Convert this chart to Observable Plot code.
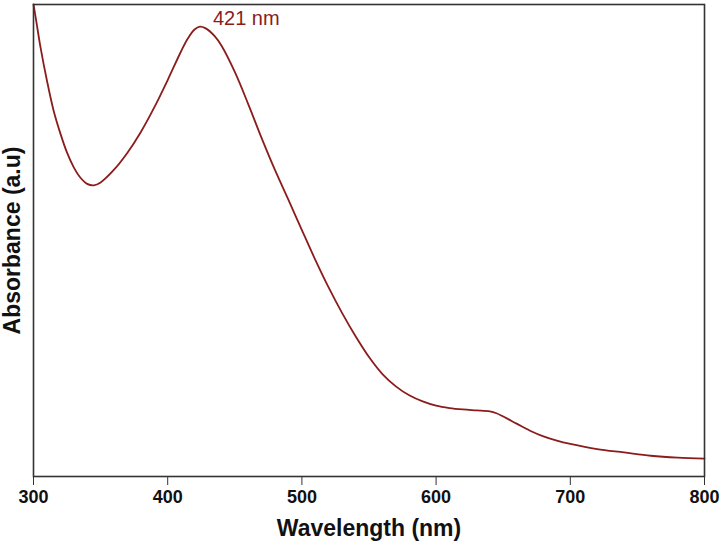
<!DOCTYPE html>
<html>
<head>
<meta charset="utf-8">
<script src="https://cdn.jsdelivr.net/npm/d3@7"></script>
<script src="https://cdn.jsdelivr.net/npm/@observablehq/plot@0.6"></script>
<style>
  html, body { margin: 0; padding: 0; background: #fff; }
  #chart svg { display: block; }
</style>
</head>
<body>
<div id="chart"></div>
<script>
// Wavelength (nm) and absorbance (a.u., relative)
const wavelengths = [300, 302, 305, 310, 315, 320, 325, 330, 335, 340, 345, 350, 360, 370, 380, 390, 400, 410, 415, 420, 424, 428, 435, 440, 450, 460, 470, 480, 490, 500, 510, 520, 530, 540, 550, 560, 570, 580, 590, 600, 610, 620, 630, 640, 645, 650, 660, 670, 680, 690, 700, 720, 740, 760, 780, 800];
const absorbance  = [1.000, 0.966, 0.913, 0.839, 0.775, 0.727, 0.686, 0.655, 0.633, 0.620, 0.617, 0.623, 0.650, 0.686, 0.730, 0.782, 0.840, 0.901, 0.928, 0.947, 0.953, 0.950, 0.933, 0.913, 0.857, 0.789, 0.717, 0.649, 0.586, 0.522, 0.459, 0.400, 0.346, 0.297, 0.253, 0.217, 0.191, 0.172, 0.159, 0.150, 0.145, 0.142, 0.140, 0.138, 0.134, 0.127, 0.112, 0.097, 0.085, 0.076, 0.069, 0.058, 0.051, 0.044, 0.040, 0.038];
const xTicks = [300, 400, 500, 600, 700, 800];
const peakLabel = ["421 nm"];
const peakWavelength = [421];
const peakAbsorbance = [0.953];

const data = wavelengths.map((w, i) => ({w, a: absorbance[i]}));
const annotation = peakLabel.map((t, i) => ({t, w: peakWavelength[i], a: peakAbsorbance[i]}));

const color = "#8b1c1c";
const font = "'Liberation Sans', Arial, Helvetica, sans-serif";

const chart = Plot.plot({
  width: 722,
  height: 548,
  marginLeft: 33,
  marginRight: 18,
  marginTop: 4,
  marginBottom: 72,
  style: {fontFamily: font, background: "#fff", color: "#111"},
  x: {domain: [300, 800]},
  y: {domain: [0, 1]},
  marks: [
    Plot.line(data, {x: "w", y: "a", stroke: color, strokeWidth: 1.8, curve: "catmull-rom"}),
    Plot.text(annotation, {x: "w", y: "a", text: "t", fill: color, fontSize: 20, textAnchor: "start", lineAnchor: "bottom", dx: 17, dy: -2}),
    Plot.axisX({
      ticks: xTicks,
      tickSize: 9,
      tickPadding: 5,
      stroke: "#333",
      fontSize: 18,
      fontWeight: "bold",
      label: "Wavelength (nm)",
      labelAnchor: "center",
      labelArrow: "none",
      labelOffset: 59
    }),
    Plot.axisY({
      ticks: [],
      label: "Absorbance (a.u)",
      labelAnchor: "center",
      labelArrow: "none",
      fontSize: 22,
      fontWeight: "bold",
      labelOffset: 30
    }),
    Plot.frame({stroke: "#333", strokeWidth: 1.6})
  ]
});

// enlarge axis title fonts
chart.querySelectorAll('g[aria-label="x-axis label"] text, g[aria-label="y-axis label"] text').forEach(t => {
  t.setAttribute("font-size", "23");
  t.setAttribute("font-weight", "bold");
});
document.getElementById("chart").appendChild(chart);
</script>
</body>
</html>
